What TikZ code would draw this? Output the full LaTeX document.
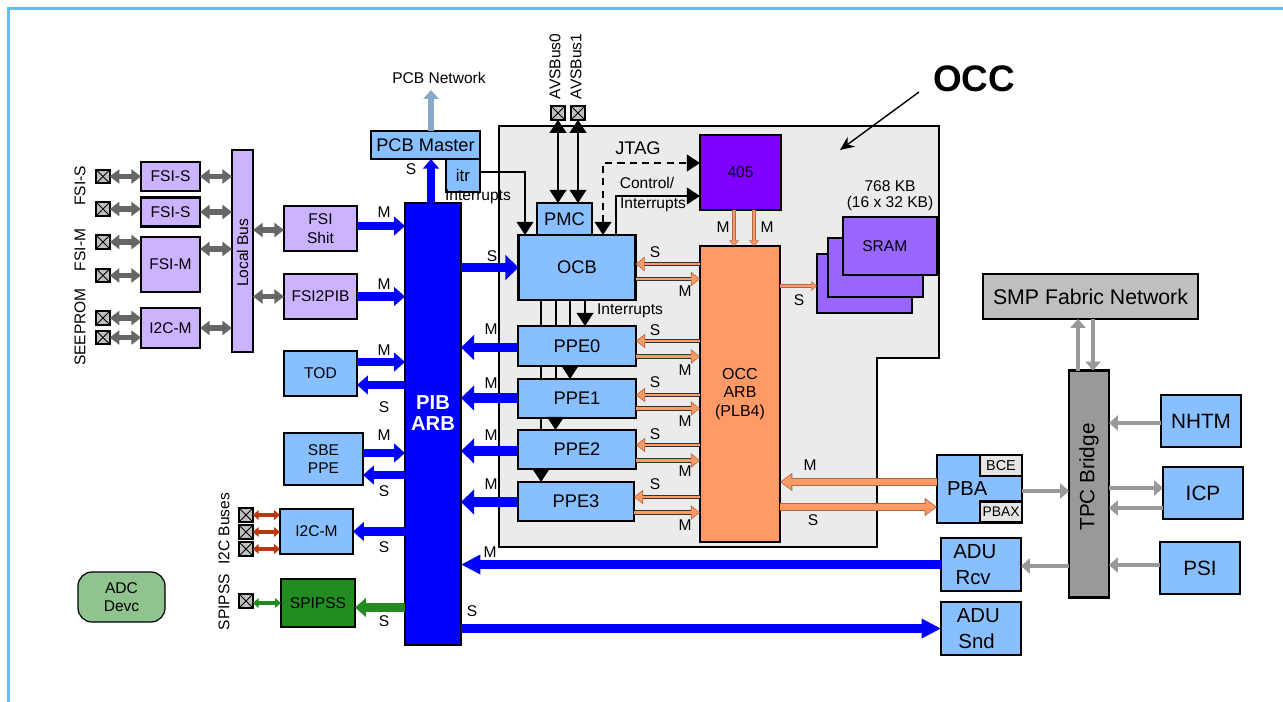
\documentclass[tikz,border=0pt]{standalone}
\usepackage{fontspec}
\setmainfont{Liberation Sans}
\usetikzlibrary{arrows.meta,calc,positioning}
\definecolor{frameblue}{RGB}{102,187,255}
\definecolor{boxblue}{RGB}{136,191,255}
\definecolor{boxlilac}{RGB}{204,179,255}
\definecolor{srampurple}{RGB}{153,102,255}
\definecolor{corepurple}{RGB}{127,0,255}
\definecolor{arborange}{RGB}{255,153,102}
\definecolor{linkorange}{RGB}{170,105,70}
\definecolor{occgray}{RGB}{235,235,235}
\definecolor{linkgray}{RGB}{102,102,102}
\definecolor{tpcgray}{RGB}{153,153,153}
\definecolor{smpgray}{RGB}{191,191,191}
\definecolor{pcbsteel}{RGB}{136,170,200}
\definecolor{i2cred}{RGB}{184,57,14}
\definecolor{spigreen}{RGB}{34,139,34}
\definecolor{adcgreen}{RGB}{143,196,143}
\tikzset{
  every node/.style={font=\fontsize{8.85}{10.6}\selectfont},
  midfont/.style={font=\fontsize{10.4}{12.5}\selectfont},
  bigfont/.style={font=\fontsize{11.8}{14.8}\selectfont},
  size/.style 2 args={minimum width=#1*0.02cm, minimum height=#2*0.02cm},
  unit/.style={rectangle, draw=black, line width=1.2pt, inner sep=0pt,
    outer sep=0pt, align=center},
  blue box/.style={unit, fill=boxblue},
  lilac box/.style={unit, fill=boxlilac},
  pad/.style={rectangle, draw=black, fill=smpgray, line width=1.15pt, inner sep=0pt,
    outer sep=0pt, minimum size=0.27cm,
    path picture={
      \draw[line width=0.5pt] (path picture bounding box.north west) -- (path picture bounding box.south east);
      \draw[line width=0.5pt] (path picture bounding box.north east) -- (path picture bounding box.south west);}},
  tag/.style={inner sep=0pt},
  side/.style={inner sep=0pt, rotate=90},
  blue bus/.style={draw=blue, line width=4.7pt, -{Triangle[length=6.2pt,width=10.5pt]}},
  fat bus/.style={draw=blue, line width=5.6pt, -{Triangle[length=7.5pt,width=14pt]}},
  long bus/.style={draw=blue, line width=5.6pt, -{Triangle[length=11pt,width=10.5pt]}},
  green bus/.style={blue bus, draw=spigreen},
  gray link/.style={draw=linkgray, line width=3.4pt,
    {Triangle[length=5.5pt,width=8pt]}-{Triangle[length=5.5pt,width=8pt]}},
  thin link/.style={line width=1.9pt,
    {Triangle[length=3.4pt,width=5.5pt]}-{Triangle[length=3.4pt,width=5.5pt]}},
  gray bus/.style={draw=tpcgray, line width=2.5pt, -{Triangle[length=5pt,width=8.5pt]}},
  wire/.style={draw=black, line width=1.15pt, -{Triangle[length=7.5pt,width=9.5pt]}},
  both wire/.style={wire, {Triangle[length=7.5pt,width=9.5pt]}-{Triangle[length=7.5pt,width=9.5pt]}},
  orange bus/.style={
    preaction={draw=black!80, line width=2.5pt, shorten >=0pt,
      -{Triangle[length=5.2pt,width=8pt,color=linkorange]}},
    draw=arborange, line width=1.2pt, shorten >=0.6pt,
    -{Triangle[length=4.2pt,width=6.2pt]}},
  small orange/.style={
    preaction={draw=linkorange, line width=2.1pt, shorten >=0pt,
      -{Triangle[length=3.2pt,width=5.4pt]}},
    draw=arborange, line width=1pt, shorten >=0.5pt,
    -{Triangle[length=2.6pt,width=4pt]}},
  wide orange/.style={
    preaction={draw=linkorange, line width=4.2pt, shorten >=0pt,
      -{Triangle[length=7pt,width=10pt]}},
    draw=arborange, line width=3.1pt, shorten >=0.7pt,
    -{Triangle[length=5.8pt,width=8.2pt]}}
}

\begin{document}
\begin{tikzpicture}[x=0.02cm,y=-0.02cm,line cap=butt,line join=miter]
  \useasboundingbox (0,0) rectangle (1283,702);

  % frame and OCC area
  \draw[frameblue, line width=1.2pt] (8.5,702) -- (8.5,8.5) -- (1283,8.5);
  \draw[fill=occgray, line width=1.15pt] (499,126) -- (939,126) -- (939,358)
    -- (877,358) -- (877,547) -- (499,547) -- cycle;
  \node[font=\fontsize{21}{24}\selectfont\bfseries] (occtitle) at (974,79) {OCC};
  \coordinate (occtail) at (919,92);
  \coordinate (occhead) at (840,150);
  \draw[line width=0.8pt, -{Stealth[length=8pt,width=7pt]}] (occtail) -- (occhead);

  % left column
  \node[lilac box, size={59}{29}] (fsis0) at (170.5,176.5) {FSI-S};
  \node[lilac box, size={59}{29}] (fsis1) at (170.5,212) {FSI-S};
  \node[lilac box, size={59}{55}] (fsim) at (170.5,264.5) {FSI-M};
  \node[lilac box, size={59}{40}] (i2cm) at (170.5,328) {I2C-M};
  \node[lilac box, size={21}{202}] (localbus) at (242.5,251) {\rotatebox{90}{Local Bus\hspace*{2pt}}};
  \node[lilac box, size={73}{45}] (fsishit) at (320.5,228.5) {FSI\\Shit};
  \node[lilac box, size={73}{45}] (fsipib) at (320.5,296.5) {FSI2PIB};

  \foreach \n/\y in {a/176.5,b/209,c/242,d/275.5,e/318,f/337.5} {
    \node[pad] (pad\n) at (103,\y) {};
  }
  \draw[gray link] (pada.east) -- (fsis0.west |- pada);
  \draw[gray link] (padb.east) -- (fsis1.west |- padb);
  \draw[gray link] (padc.east) -- (fsim.west |- padc);
  \draw[gray link] (padd.east) -- (fsim.west |- padd);
  \draw[gray link] (pade.east) -- (i2cm.west |- pade);
  \draw[gray link] (padf.east) -- (i2cm.west |- padf);
  \draw[gray link] (fsis0.east) -- (localbus.west |- fsis0);
  \draw[gray link] (fsis1.east) -- (localbus.west |- fsis1);
  \draw[gray link] (fsim.east |- 0,249) -- (localbus.west |- 0,249);
  \draw[gray link] (i2cm.east) -- (localbus.west |- i2cm);
  \draw[gray link] (localbus.east |- 0,230) -- (fsishit.west |- 0,230);
  \draw[gray link] (localbus.east |- fsipib) -- (fsipib.west);
  \node[side] (lblfsis) at (80,186) {FSI-S};
  \node[side] (lblfsim) at (80,250) {FSI-M};
  \node[side] (lblrom) at (80,327) {SEEPROM};

  % PIB arbiter and its masters
  \node[unit, fill=blue, size={56}{442}, text=white, font=\fontsize{11.5}{12}\selectfont\bfseries]
    (pib) at (433,424) {PIB\\ARB\\\mbox{}};
  \node[blue box, size={109}{28}, midfont] (pcbmaster) at (425.5,145) {PCB Master};
  \node[blue box, size={34}{33}, midfont, font=\fontsize{9.6}{11}\selectfont] (itr) at (463,175.5) {itr};
  \node[blue box, size={73}{45}] (tod) at (320.5,373.5) {TOD};
  \node[blue box, size={79}{52}] (sbe) at (323.5,459) {SBE\\PPE};
  \node[blue box, size={73}{45}] (i2cblue) at (316.5,531.5) {I2C-M};
  \node[unit, fill=spigreen, size={74}{48}] (spipss) at (318,603) {SPIPSS};
  \node[rectangle, rounded corners=8pt, draw=black, fill=adcgreen, line width=0.7pt, size={87}{50}, align=center]
    (adc) at (121.5,597) {ADC\\Devc};

  \draw[blue bus] (fsishit.east |- 0,226) -- (pib.west |- 0,226);
  \draw[blue bus] (fsipib.east) -- (pib.west |- fsipib);
  \draw[blue bus] (tod.east |- 0,362) -- (pib.west |- 0,362);
  \draw[blue bus] (pib.west |- 0,385) -- (tod.east |- 0,385);
  \draw[blue bus] (sbe.east |- 0,453) -- (pib.west |- 0,453);
  \draw[blue bus] (pib.west |- 0,475) -- (sbe.east |- 0,475);
  \draw[blue bus] (pib.west |- i2cblue) -- (i2cblue.east);
  \draw[green bus] (pib.west |- 0,607.5) -- (spipss.east |- 0,607.5);
  \draw[blue bus, line width=4pt, -{Triangle[length=5.5pt,width=9pt]}] (pib.north -| pcbmaster.center) ++(5.5,0) -- ($(pcbmaster.south)+(5.5,0)$);
  \draw[draw=pcbsteel, line width=3pt, -{Triangle[length=5pt,width=8.5pt]}] (pcbmaster.north) ++(5.5,0) -- ++(0,-41);
  \node (lblpcb) at (439,78) {PCB Network};
  \node (lblintr) at (478,197) {Interrupts};

  \foreach \n/\y in {g/515,h/532,i/549,j/601} {
    \node[pad] (pad\n) at (246,\y) {};
  }
  \draw[thin link, draw=i2cred] (padg.east) -- (i2cblue.west |- padg);
  \draw[thin link, draw=i2cred] (padh.east) -- (i2cblue.west |- padh);
  \draw[thin link, draw=i2cred] (padi.east) -- (i2cblue.west |- padi);
  \draw[thin link, draw=spigreen] (padj.east |- 0,603) -- (spipss.west |- 0,603);
  \node[side] (lbli2c) at (224,529) {I2C Buses};
  \node[side] (lblspi) at (224,602) {SPIPSS};

  % OCC blocks
  \node[blue box, size={55}{32}, midfont] (pmc) at (564.5,219) {PMC};
  \node[blue box, size={117}{65}, midfont] (ocb) at (577,267.5) {OCB};
  \node[blue box, size={118}{40}, midfont] (ppe0) at (577,346) {PPE0};
  \node[blue box, size={118}{39}, midfont] (ppe1) at (577,398.5) {PPE1};
  \node[blue box, size={118}{39}, midfont] (ppe2) at (577,449.5) {PPE2};
  \node[blue box, size={116}{39}, midfont] (ppe3) at (576,501.5) {PPE3};
  \node[unit, fill=corepurple, size={81}{75}] (core) at (740.5,172.5) {405};
  \node[unit, fill=arborange, size={80}{296}, font=\fontsize{9.1}{10.7}\selectfont] (occarb) at (740,394) {OCC\\ARB\\(PLB4)};
  \node[unit, fill=srampurple, size={95}{59}] (sram2) at (864.5,283.5) {};
  \node[unit, fill=srampurple, size={95}{59}] (sram1) at (875.5,267.5) {};
  \node[unit, fill=srampurple, size={94}{58}] (sram0) at (890,246) {\hspace*{-6pt}SRAM};
  \node[align=center, font=\fontsize{8.85}{9.1}\selectfont] (lblsram) at (890,196) {768 KB\\(16 x 32 KB)};

  % AVSBus pads
  \node[pad] (padk) at (558,113) {};
  \node[pad] (padl) at (578,113) {};
  \node[side] (lblavs0) at (555,66.5) {AVSBus0};
  \node[side] (lblavs1) at (576,66.5) {AVSBus1};
  \draw[both wire] (padk.south) -- (pmc.north -| padk);
  \draw[both wire] (padl.south) -- (pmc.north -| padl);

  % control wires
  \coordinate (jtagcorner) at (603,163);
  \coordinate (ctlcorner) at (616,196);
  \coordinate (itrcorner) at (525,172);
  \draw[both wire, dash pattern=on 4pt off 3pt] (ocb.north -| jtagcorner) -- (jtagcorner) -- (core.west |- jtagcorner);
  \draw[wire] (ocb.north -| ctlcorner) -- (ctlcorner) -- (core.west |- ctlcorner);
  \draw[wire] (itr.east |- itrcorner) -- (itrcorner) -- (ocb.north -| itrcorner);
  \node[midfont] (lbljtag) at (638,148) {JTAG};
  \node (lblctl) at (647,183) {Control/};
  \node (lblctlint) at (653,205) {Interrupts};

  % interrupt lines between OCB and the PPEs
  \foreach \x in {541,555.5,570} {
    \draw[line width=1.15pt] (ocb.south -| \x,0) -- (ppe0.north -| \x,0);
  }
  \draw[wire] (ocb.south -| 585,0) -- (ppe0.north -| 585,0);
  \draw[line width=1.15pt] (ppe0.south -| 541,0) -- (ppe1.north -| 541,0);
  \draw[line width=1.15pt] (ppe0.south -| 555.5,0) -- (ppe1.north -| 555.5,0);
  \draw[wire] (ppe0.south -| 570,0) -- (ppe1.north -| 570,0);
  \draw[line width=1.15pt] (ppe1.south -| 541,0) -- (ppe2.north -| 541,0);
  \draw[wire] (ppe1.south -| 555.5,0) -- (ppe2.north -| 555.5,0);
  \draw[wire] (ppe2.south -| 541,0) -- (ppe3.north -| 541,0);
  \node (lblocbint) at (630,311) {Interrupts};

  % OCC arbiter links
  \draw[small orange] (core.south -| 734,0) -- (occarb.north -| 734,0);
  \draw[small orange] (core.south -| 754,0) -- (occarb.north -| 754,0);
  \foreach \n/\s/\m in {ocb/264/279,ppe0/341/356.5,ppe1/395/408.5,ppe2/445/460.5,ppe3/497/512.5} {
    \draw[orange bus] (occarb.west |- 0,\s) -- (\n.east |- 0,\s);
    \draw[orange bus] (\n.east |- 0,\m) -- (occarb.west |- 0,\m);
  }
  \draw[small orange] (occarb.east |- 0,286) -- (sram2.west |- 0,286);

  % PIB to OCC masters
  \draw[fat bus] (pib.east |- ocb) -- (ocb.west);
  \foreach \n/\y in {ppe0/347.5,ppe1/398,ppe2/451,ppe3/502} {
    \draw[fat bus] (\n.west |- 0,\y) -- (pib.east |- 0,\y);
  }

  % bridge side
  \node[unit, fill=smpgray, size={215}{45}, font=\fontsize{12.1}{14}\selectfont] (smp) at (1090.5,296.5) {SMP Fabric Network};
  \node[unit, fill=tpcgray, size={40}{227}] (tpc) at (1089,484) {\rotatebox{90}{\fontsize{11.8}{14}\selectfont\hspace*{8pt}TPC Bridge}};
  \node[blue box, size={80}{52}, bigfont] (nhtm) at (1201,421) {NHTM};
  \node[blue box, size={80}{52}, bigfont] (icp) at (1203,493) {ICP};
  \node[blue box, size={80}{52}, bigfont] (psi) at (1200,568) {PSI};
  \node[blue box, size={85}{68}, font=\fontsize{11.5}{14}\selectfont] (pba) at (979.5,489) {PBA\hspace*{14pt}};
  \node[unit, fill=black!10, size={42}{21}, font=\fontsize{8.2}{10}\selectfont] (bce) at (1001,465.5) {BCE};
  \node[unit, fill=black!10, size={42}{21}, font=\fontsize{7.9}{10}\selectfont] (pbax) at (1001,512) {PBAX};
  \node[blue box, size={80}{53}, font=\fontsize{11.6}{14.8}\selectfont] (adurcv) at (981,564.5) {ADU\hspace*{7pt}\\Rcv\hspace*{9pt}};
  \node[blue box, size={80}{53}, font=\fontsize{11.6}{14.8}\selectfont] (adusnd) at (981,628.5) {ADU\hspace*{3pt}\\Snd\hspace*{5pt}};

  \draw[wide orange] (pba.west |- 0,482) -- (occarb.east |- 0,482);
  \draw[wide orange] (occarb.east |- 0,507) -- (pba.west |- 0,507);
  \draw[long bus] (adurcv.west) -- (pib.east |- adurcv);
  \draw[long bus] (pib.east |- adusnd) -- (adusnd.west);
  \draw[gray bus] (tpc.north -| 1078,0) -- (smp.south -| 1078,0);
  \draw[gray bus] (smp.south -| 1093,0) -- (tpc.north -| 1093,0);
  \draw[gray bus] (nhtm.west |- 0,423) -- (tpc.east |- 0,423);
  \draw[gray bus] (tpc.east |- 0,488) -- (icp.west |- 0,488);
  \draw[gray bus] (icp.west |- 0,508) -- (tpc.east |- 0,508);
  \draw[gray bus] (psi.west |- 0,565) -- (tpc.east |- 0,565);
  \draw[gray bus] (pba.east |- 0,491) -- (tpc.west |- 0,491);
  \draw[gray bus] (tpc.west |- 0,566) -- (adurcv.east |- 0,566);

  % M and S tags
  \foreach \i/\x/\y/\t in {0/384/212/M,1/384/284/M,2/384/350/M,3/384/407/S,4/384/435/M,5/384/491/S,
      6/384/547/S,7/384/621/S,8/411/169/S,9/492/256/S,10/491/329/M,11/491/383/M,12/491/435/M,13/491/484/M,
      14/490/552/M,15/472/611/S,16/723/227/M,17/767/227/M,18/655/252/S,19/685/291/M,20/655/330/S,21/685/370/M,
      22/655/382/S,23/685/421/M,24/655/434/S,25/685/471/M,26/655/484/S,27/685/525/M,28/799/300/S,
      29/810/465/M,30/813/520/S} {
    \node[tag] (tag\i) at (\x,\y) {\t};
  }
\end{tikzpicture}
\end{document}
